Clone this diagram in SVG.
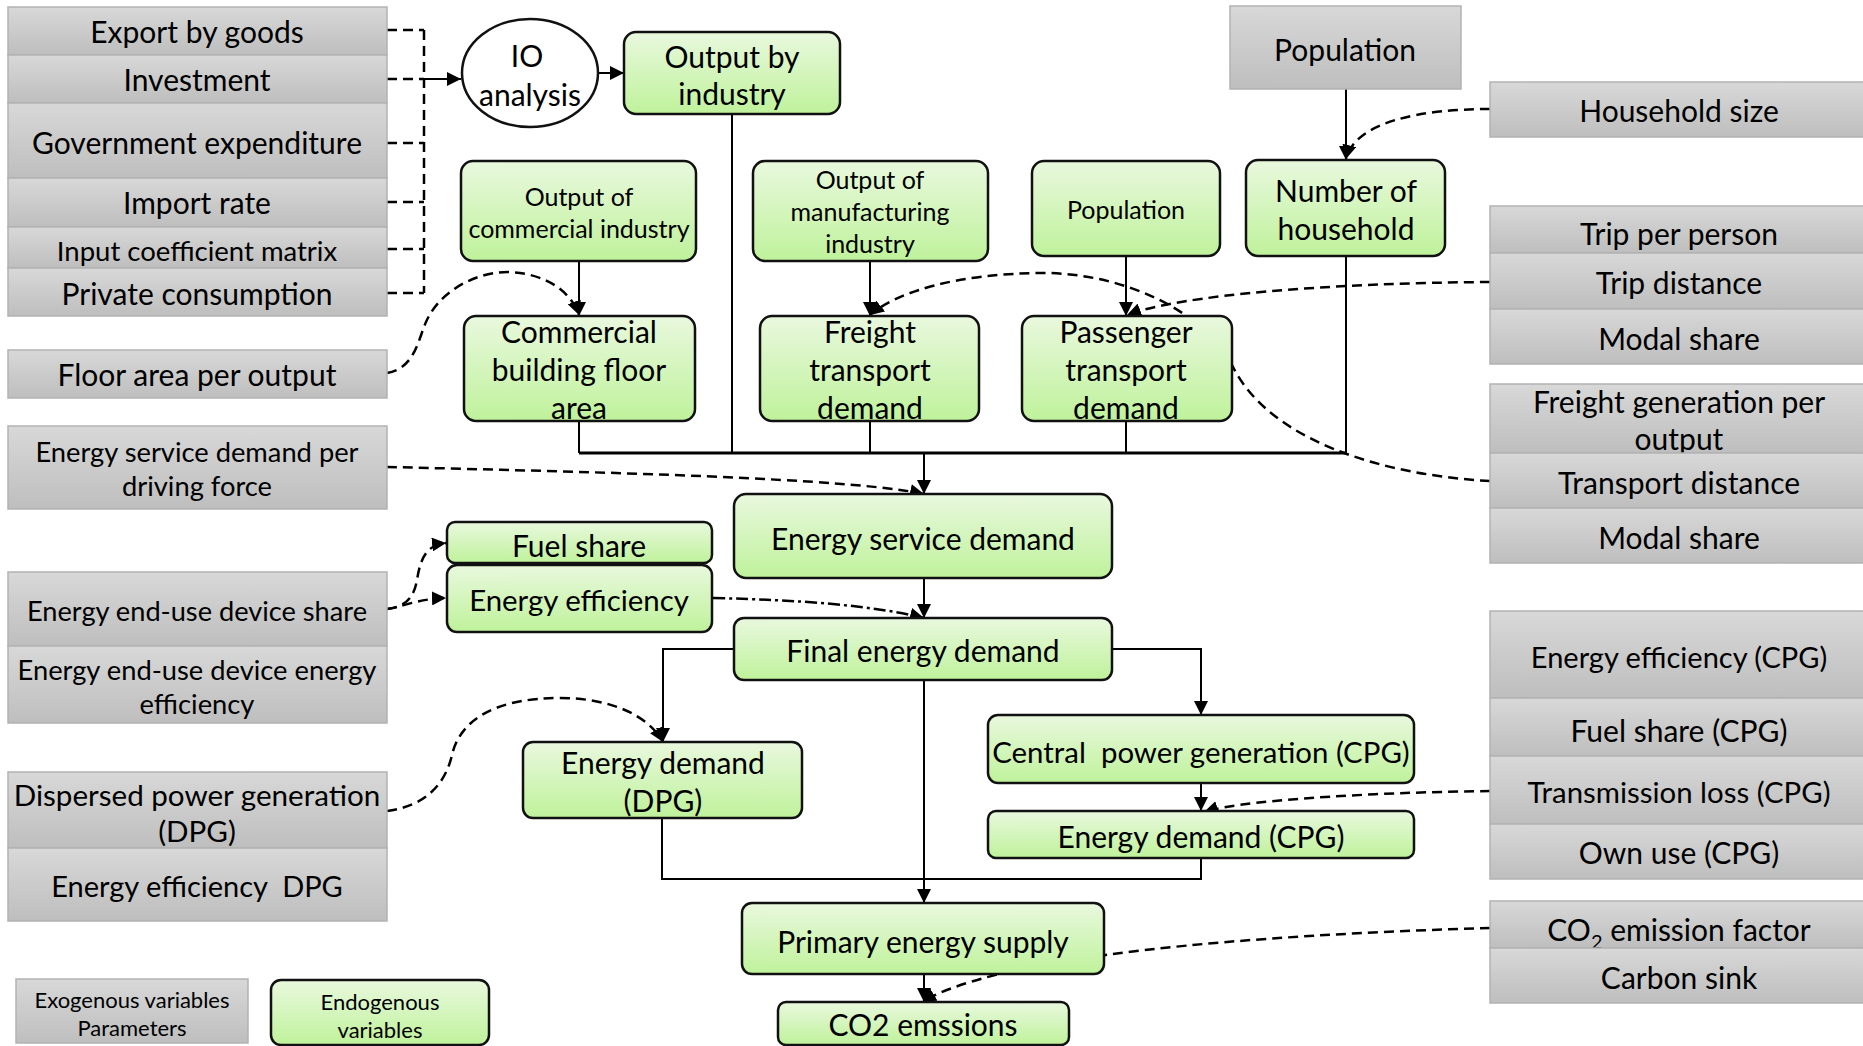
<svg xmlns="http://www.w3.org/2000/svg" width="1863" height="1046" viewBox="0 0 1863 1046">
  <defs>
    <linearGradient id="gGrey" x1="0" y1="0" x2="0" y2="1">
      <stop offset="0" stop-color="#d8d8d8"/>
      <stop offset="1" stop-color="#bebebe"/>
    </linearGradient>
    <linearGradient id="gGreen" x1="0" y1="0" x2="0" y2="1">
      <stop offset="0" stop-color="#e9f8de"/>
      <stop offset="1" stop-color="#bff29b"/>
    </linearGradient>
    <marker id="arr" viewBox="0 0 12 12" refX="12" refY="6" markerWidth="14" markerHeight="14" markerUnits="userSpaceOnUse" orient="auto">
      <path d="M0,0 L12,6 L0,12 Z" fill="#000"/>
    </marker>
    <style>
      .ex rect { fill: url(#gGrey); stroke: #b2b2b2; stroke-width: 1.5; }
      .en rect { fill: url(#gGreen); stroke: #111; stroke-width: 2.5; }
      .en ellipse { fill: #fff; stroke: #111; stroke-width: 2.5; }
      text { font-family: Lato, "Noto Sans", sans-serif; font-size: 30px; fill: #000; text-anchor: middle; dominant-baseline: central; }
      .s { font-size: 25px; }
      .xs { font-size: 22px; }
      #connectors path { fill: none; stroke: #000; stroke-width: 2; }
      #connectors .d { stroke-width: 2.5; stroke-dasharray: 10 6; }
      #connectors .dd { stroke-width: 2.5; stroke-dasharray: 12 4 3 4; }
      #connectors .bus { stroke-width: 3; }
      #connectors .a { marker-end: url(#arr); }
    </style>
  </defs>

  <!-- connectors -->
  <g id="connectors">
    <!-- final-demand drivers into the IO analysis -->
    <path class="d" d="M387,30 H424 M387,79 H424 M387,143 H424 M387,202 H424 M387,249 H424 M387,293 H424 M424,30 V293"/>
    <path class="a" d="M424,79 H461"/>
    <path class="a" d="M598,73 H624"/>
    <path d="M732,114 V453"/>
    <!-- collector bus above energy service demand -->
    <path d="M579,421 V453 M870,421 V453 M1126,421 V453 M1346,256 V453"/>
    <path class="bus" d="M579,453 H1346"/>
    <path class="a" d="M924,453 V494"/>
    <path class="a" d="M579,261 V316"/>
    <path class="a" d="M870,261 V316"/>
    <path class="a" d="M1126,256 V316"/>
    <path class="a" d="M1346,89 V160"/>
    <!-- parameter links -->
    <path class="d a" d="M1490,109 C1420,109 1355,122 1346,159"/>
    <path class="d a" d="M1490,282 C1330,283 1180,295 1127,315"/>
    <path class="d a" d="M1490,481 C1380,475 1270,440 1233,367 C1205,310 1120,272 1040,273 C960,274 900,290 870,315"/>
    <path class="d a" d="M387,373 C415,368 418,340 426,322 C440,290 478,271 510,272 C545,274 570,290 579,315"/>
    <path class="d a" d="M387,467 C600,472 850,478 924,494"/>
    <path class="d a" d="M387,609 C405,607 414,598 417,580 C421,555 428,545 446,543"/>
    <path class="d a" d="M387,609 C400,608 415,599 446,598"/>
    <path class="dd a" d="M713,598 C800,600 870,605 924,618"/>
    <path class="a" d="M924,578 V618"/>
    <path class="a" d="M734,649 H663 V742"/>
    <path class="a" d="M1112,649 H1201 V715"/>
    <path class="a" d="M1201,783 V811"/>
    <path class="d a" d="M1490,791 C1400,792 1250,798 1204,812"/>
    <path class="d a" d="M387,811 C425,806 445,785 452,755 C460,720 495,698 560,698 C610,698 648,715 663,742"/>
    <path d="M1201,858 V879 H662 V818"/>
    <path class="a" d="M924,680 V903"/>
    <path class="a" d="M924,974 V1002"/>
    <path class="d a" d="M1490,928 C1250,935 1000,955 922,1002"/>
  </g>

  <!-- exogenous variables and parameters, left column -->
  <g id="export" class="ex"><rect x="8" y="7" width="379" height="48"/><text x="197" y="31">Export by goods</text></g>
  <g id="investment" class="ex"><rect x="8" y="55" width="379" height="48"/><text x="197" y="79">Investment</text></g>
  <g id="gov" class="ex"><rect x="8" y="103" width="379" height="75"/><text x="197" y="142">Government expenditure</text></g>
  <g id="import" class="ex"><rect x="8" y="178" width="379" height="49"/><text x="197" y="202">Import rate</text></g>
  <g id="input-coef" class="ex"><rect x="8" y="227" width="379" height="41"/><text x="197" y="250" style="font-size:27.5px">Input coefficient matrix</text></g>
  <g id="private" class="ex"><rect x="8" y="268" width="379" height="48"/><text x="197" y="293">Private consumption</text></g>
  <g id="floor-area" class="ex"><rect x="8" y="350" width="379" height="48"/><text x="197" y="374">Floor area per output</text></g>
  <g id="esd-per-force" class="ex"><rect x="8" y="426" width="379" height="83"/><text x="197" y="451" style="font-size:27.3px">Energy service demand per<tspan x="197" y="485">driving force</tspan></text></g>
  <g id="device-share" class="ex"><rect x="8" y="572" width="379" height="74"/><text x="197" y="610" style="font-size:27.2px">Energy end-use device share</text></g>
  <g id="device-eff" class="ex"><rect x="8" y="646" width="379" height="77"/><text x="197" y="669" style="font-size:27.3px">Energy end-use device energy<tspan x="197" y="703">efficiency</tspan></text></g>
  <g id="dpg-param" class="ex"><rect x="8" y="772" width="379" height="76"/><text x="197" y="794" style="font-size:29.6px">Dispersed power generation<tspan x="197" y="830">(DPG)</tspan></text></g>
  <g id="dpg-eff" class="ex"><rect x="8" y="848" width="379" height="73"/><text x="197" y="885" style="font-size:29px" xml:space="preserve">Energy efficiency  DPG</text></g>

  <!-- exogenous variables, right column -->
  <g id="population-ex" class="ex"><rect x="1230" y="6" width="231" height="83"/><text x="1345" y="49">Population</text></g>
  <g id="household-size" class="ex"><rect x="1490" y="82" width="380" height="55"/><text x="1679" y="110">Household size</text></g>
  <g id="trip-per-person" class="ex"><rect x="1490" y="206" width="380" height="47"/><text x="1679" y="233">Trip per person</text></g>
  <g id="trip-distance" class="ex"><rect x="1490" y="253" width="380" height="56"/><text x="1679" y="282">Trip distance</text></g>
  <g id="modal-share-p" class="ex"><rect x="1490" y="309" width="380" height="55"/><text x="1679" y="338">Modal share</text></g>
  <g id="freight-gen" class="ex"><rect x="1490" y="384" width="380" height="69"/><text x="1679" y="401">Freight generation per<tspan x="1679" y="438">output</tspan></text></g>
  <g id="transport-distance" class="ex"><rect x="1490" y="453" width="380" height="55"/><text x="1679" y="482">Transport distance</text></g>
  <g id="modal-share-f" class="ex"><rect x="1490" y="508" width="380" height="55"/><text x="1679" y="537">Modal share</text></g>
  <g id="cpg-eff" class="ex"><rect x="1490" y="611" width="380" height="87"/><text x="1679" y="656" style="font-size:29px">Energy efficiency (CPG)</text></g>
  <g id="cpg-fuel" class="ex"><rect x="1490" y="698" width="380" height="58"/><text x="1679" y="730">Fuel share (CPG)</text></g>
  <g id="cpg-loss" class="ex"><rect x="1490" y="756" width="380" height="68"/><text x="1679" y="791" style="font-size:29.4px">Transmission loss (CPG)</text></g>
  <g id="cpg-own" class="ex"><rect x="1490" y="824" width="380" height="55"/><text x="1679" y="852">Own use (CPG)</text></g>
  <g id="co2-factor" class="ex"><rect x="1490" y="901" width="380" height="47"/><text x="1679" y="929">CO<tspan baseline-shift="sub" style="font-size:20px">2</tspan> emission factor</text></g>
  <g id="carbon-sink" class="ex"><rect x="1490" y="948" width="380" height="55"/><text x="1679" y="977">Carbon sink</text></g>

  <!-- endogenous variables -->
  <g id="io-analysis" class="en"><ellipse cx="530" cy="73" rx="68" ry="54"/><text x="527" y="55">IO<tspan x="530" y="94">analysis</tspan></text></g>
  <g id="output-industry" class="en"><rect x="624" y="32" width="216" height="82" rx="12"/><text x="732" y="56">Output by<tspan x="732" y="93">industry</tspan></text></g>
  <g id="output-commercial" class="en"><rect x="461" y="161" width="235" height="100" rx="12"/><text class="s" x="579" y="196">Output of<tspan x="579" y="228">commercial industry</tspan></text></g>
  <g id="output-manufacturing" class="en"><rect x="753" y="161" width="235" height="100" rx="12"/><text class="s" x="870" y="179">Output of<tspan x="870" y="211">manufacturing</tspan><tspan x="870" y="243">industry</tspan></text></g>
  <g id="population-en" class="en"><rect x="1032" y="161" width="188" height="95" rx="12"/><text class="s" x="1126" y="209">Population</text></g>
  <g id="households" class="en"><rect x="1246" y="160" width="199" height="96" rx="12"/><text x="1346" y="190">Number of<tspan x="1346" y="228">household</tspan></text></g>
  <g id="floor-area-c" class="en"><rect x="464" y="316" width="231" height="105" rx="12"/><text x="579" y="331">Commercial<tspan x="579" y="369">building floor</tspan><tspan x="579" y="407">area</tspan></text></g>
  <g id="freight-demand" class="en"><rect x="760" y="316" width="219" height="105" rx="12"/><text x="870" y="331">Freight<tspan x="870" y="369">transport</tspan><tspan x="870" y="407">demand</tspan></text></g>
  <g id="passenger-demand" class="en"><rect x="1022" y="316" width="210" height="105" rx="12"/><text x="1126" y="331">Passenger<tspan x="1126" y="369">transport</tspan><tspan x="1126" y="407">demand</tspan></text></g>
  <g id="esd" class="en"><rect x="734" y="494" width="378" height="84" rx="12"/><text x="923" y="538">Energy service demand</text></g>
  <g id="fuel-share" class="en"><rect x="447" y="522" width="265" height="41" rx="8"/><text x="579" y="545">Fuel share</text></g>
  <g id="energy-eff" class="en"><rect x="447" y="565" width="265" height="67" rx="10"/><text x="579" y="599" style="font-size:29.4px">Energy efficiency</text></g>
  <g id="fed" class="en"><rect x="734" y="618" width="378" height="62" rx="10"/><text x="923" y="650">Final energy demand</text></g>
  <g id="ed-dpg" class="en"><rect x="523" y="742" width="279" height="76" rx="10"/><text x="663" y="762">Energy demand<tspan x="663" y="800">(DPG)</tspan></text></g>
  <g id="cpg" class="en"><rect x="988" y="715" width="426" height="68" rx="10"/><text x="1201" y="751" style="font-size:29.4px" xml:space="preserve">Central  power generation (CPG)</text></g>
  <g id="ed-cpg" class="en"><rect x="988" y="811" width="426" height="47" rx="8"/><text x="1201" y="836">Energy demand (CPG)</text></g>
  <g id="pes" class="en"><rect x="742" y="903" width="362" height="71" rx="10"/><text x="923" y="941">Primary energy supply</text></g>
  <g id="co2" class="en"><rect x="778" y="1002" width="291" height="43" rx="8"/><text x="923" y="1024">CO2 emssions</text></g>

  <!-- legend -->
  <g id="legend-exo" class="ex"><rect x="16" y="979" width="232" height="64"/><text class="xs" x="132" y="999">Exogenous variables<tspan x="132" y="1027">Parameters</tspan></text></g>
  <g id="legend-endo" class="en"><rect x="271" y="980" width="218" height="65" rx="10"/><text class="xs" x="380" y="1001">Endogenous<tspan x="380" y="1029">variables</tspan></text></g>
</svg>
